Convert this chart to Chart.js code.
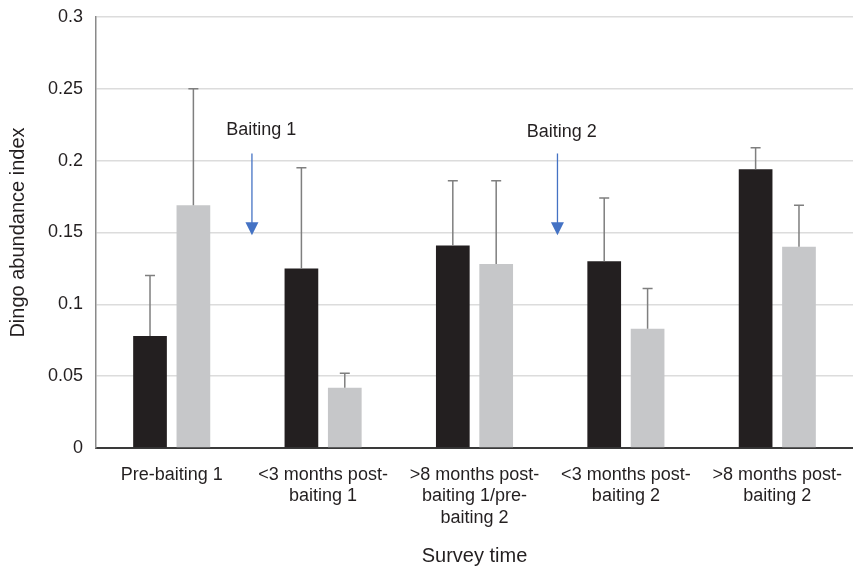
<!DOCTYPE html>
<html>
<head>
<meta charset="utf-8">
<script src="https://cdn.jsdelivr.net/npm/chart.js@4/dist/chart.umd.min.js"></script>
<style>
  html, body { margin: 0; padding: 0; background: #fff; }
  #wrap { width: 853px; height: 569px; }
</style>
</head>
<body>
<div id="wrap"><canvas id="c" width="853" height="569"></canvas></div>
<script>
// ---- data ----
const categories = [
  ["Pre-baiting 1"],
  ["<3 months post-", "baiting 1"],
  [">8 months post-", "baiting 1/pre-", "baiting 2"],
  ["<3 months post-", "baiting 2"],
  [">8 months post-", "baiting 2"]
];
const seriesDark = [0.078, 0.125, 0.141, 0.130, 0.194];
const seriesLight = [0.169, 0.042, 0.128, 0.083, 0.140];
const errorDark = [0.042, 0.070, 0.045, 0.044, 0.015];
const errorLight = [0.081, 0.010, 0.058, 0.028, 0.029];
const yTickLabels = ["0", "0.05", "0.1", "0.15", "0.2", "0.25", "0.3"];
const eventLabels = ["Baiting 1", "Baiting 2"];
const eventX = [0.53, 2.548];        // position between categories (category index units)
const eventArrowTop = [0.205, 0.205]; // y value where arrow starts
const eventArrowTip = [0.148, 0.148]; // y value of arrow tip
const eventTextY = [0.221, 0.220];    // y value of label centre
const eventTextX = [0.592, 2.576];

const FONT = "'Liberation Sans', Arial, Helvetica, sans-serif";

const errorBarPlugin = {
  id: 'errorBars',
  afterDatasetsDraw(chart) {
    const ctx = chart.ctx;
    const y = chart.scales.y;
    chart.data.datasets.forEach((ds, di) => {
      const meta = chart.getDatasetMeta(di);
      meta.data.forEach((bar, i) => {
        const v = ds.data[i];
        const e = ds.errors[i];
        const yTop = y.getPixelForValue(v + e);
        const yBase = y.getPixelForValue(v);
        ctx.save();
        ctx.strokeStyle = '#7f7f7f';
        ctx.lineWidth = 1.5;
        ctx.beginPath();
        ctx.moveTo(bar.x, yBase);
        ctx.lineTo(bar.x, yTop);
        ctx.moveTo(bar.x - 5, yTop);
        ctx.lineTo(bar.x + 5, yTop);
        ctx.stroke();
        ctx.restore();
      });
    });
  }
};

const eventPlugin = {
  id: 'events',
  afterDatasetsDraw(chart) {
    const ctx = chart.ctx;
    const xs = chart.scales.x, ys = chart.scales.y;
    eventLabels.forEach((lab, i) => {
      const px = xs.getPixelForValue(eventX[i]);
      const pTop = ys.getPixelForValue(eventArrowTop[i]);
      const pTip = ys.getPixelForValue(eventArrowTip[i]);
      ctx.save();
      ctx.strokeStyle = '#4472c4';
      ctx.fillStyle = '#4472c4';
      ctx.lineWidth = 1.3;
      ctx.beginPath();
      ctx.moveTo(px, pTop);
      ctx.lineTo(px, pTip - 10);
      ctx.stroke();
      ctx.beginPath();
      ctx.moveTo(px - 6.5, pTip - 13);
      ctx.lineTo(px + 6.5, pTip - 13);
      ctx.lineTo(px, pTip);
      ctx.closePath();
      ctx.fill();
      ctx.fillStyle = '#231f20';
      ctx.font = '18px ' + FONT;
      ctx.textAlign = 'center';
      ctx.textBaseline = 'middle';
      ctx.fillText(lab, xs.getPixelForValue(eventTextX[i]), ys.getPixelForValue(eventTextY[i]));
      ctx.restore();
    });
  }
};

function zeroPad(s) { s.paddingTop = 0; s.paddingBottom = 0; s.paddingLeft = 0; s.paddingRight = 0; }

new Chart(document.getElementById('c'), {
  type: 'bar',
  data: {
    labels: categories,
    datasets: [
      { label: 'Series 1', data: seriesDark, errors: errorDark, backgroundColor: '#231f20',
        categoryPercentage: 0.573, barPercentage: 0.777 },
      { label: 'Series 2', data: seriesLight, errors: errorLight, backgroundColor: '#c6c7c9',
        categoryPercentage: 0.573, barPercentage: 0.777 }
    ]
  },
  options: {
    responsive: false,
    animation: false,
    devicePixelRatio: 1,
    layout: { padding: { top: 17, right: 0, left: 0, bottom: 0 } },
    plugins: { legend: { display: false }, tooltip: { enabled: false } },
    scales: {
      x: {
        grid: { display: false, drawTicks: false },
        border: { display: true, color: '#3a3a3a', width: 2 },
        ticks: { color: '#231f20', font: { family: FONT, size: 18, lineHeight: 1.2 }, padding: 16, maxRotation: 0, autoSkip: false },
        title: { display: true, text: 'Survey time', color: '#231f20', font: { family: FONT, size: 20 }, padding: { top: 0, bottom: 1 } },
        afterFit(s) { s.height = 121; zeroPad(s); }
      },
      y: {
        min: 0, max: 0.3,
        grid: { drawTicks: false, color: (c) => c.tick && c.tick.value === 0 ? 'rgba(0,0,0,0)' : '#dcdcdc', lineWidth: 1.5 },
        border: { display: true, color: '#8a8a8a', width: 1.5 },
        ticks: { stepSize: 0.05, color: '#231f20', font: { family: FONT, size: 18 }, padding: 13,
          callback: (v, i) => yTickLabels[i] },
        title: { display: true, text: 'Dingo abundance index', color: '#231f20', font: { family: FONT, size: 20 }, padding: { top: 6, bottom: 0 } },
        afterFit(s) { s.width = 96; zeroPad(s); }
      }
    }
  },
  plugins: [errorBarPlugin, eventPlugin]
});
</script>
</body>
</html>
